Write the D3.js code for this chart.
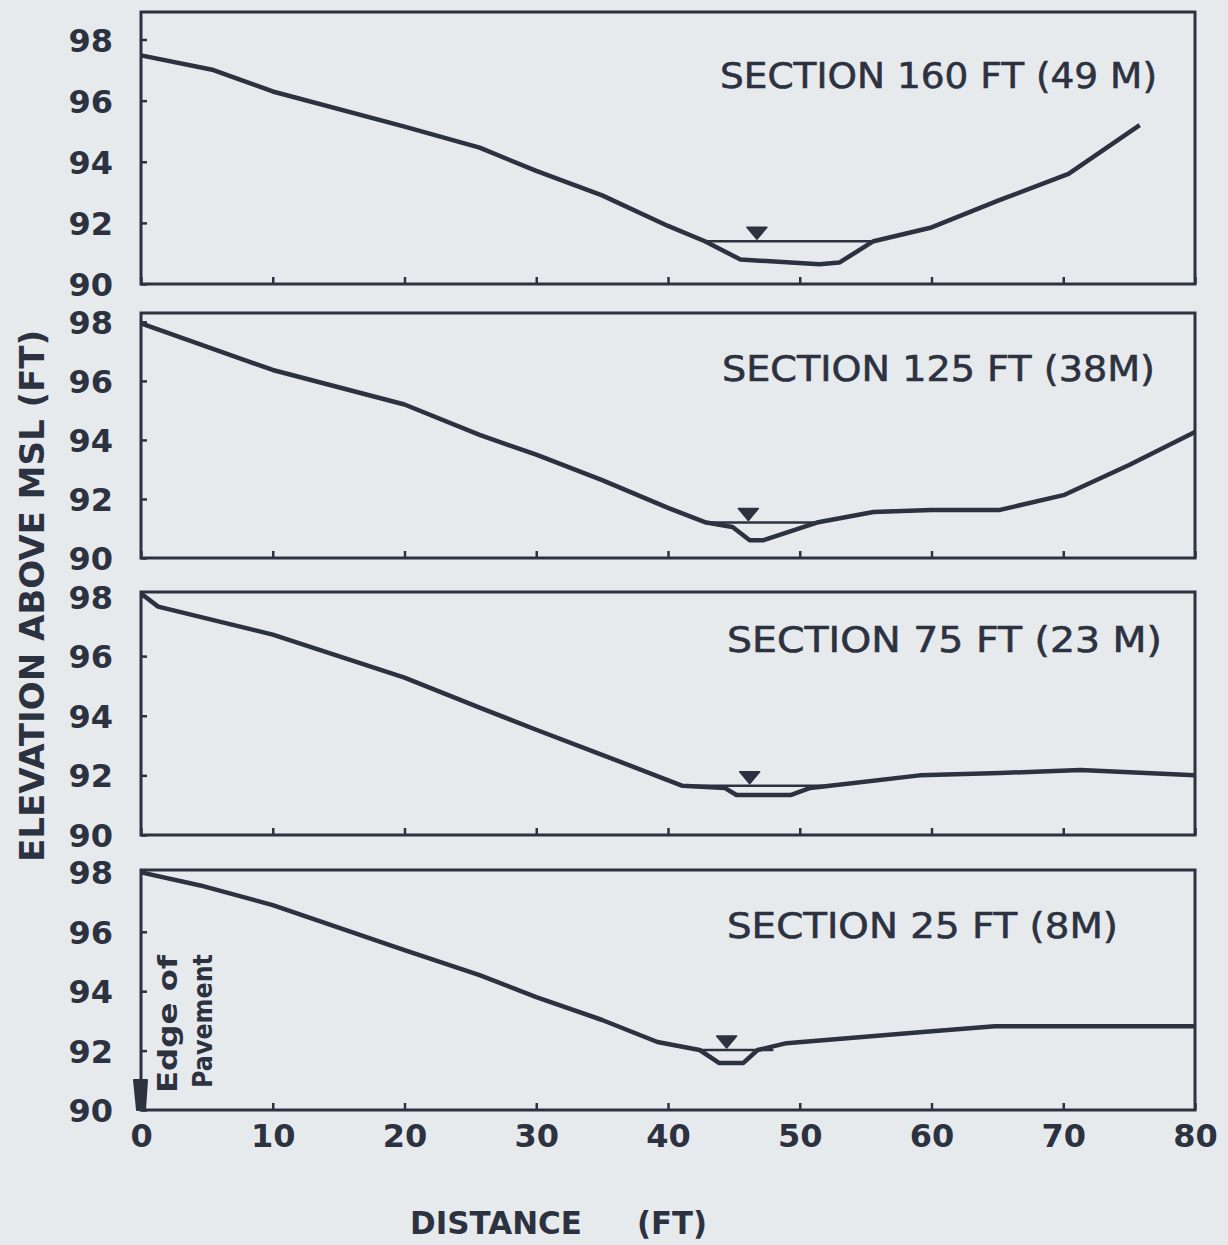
<!DOCTYPE html>
<html lang="en">
<head>
<meta charset="utf-8">
<title>Channel cross sections</title>
<script type="text/javascript" src="https://cdnjs.cloudflare.com/ajax/libs/d3/7.8.5/d3.min.js"></script>
<style>
body { margin: 0; background: #e7eaed; }
svg { display: block; }
.tick text { font-family: "DejaVu Sans", sans-serif; font-weight: bold; fill: #2d3241; }
.tick line { stroke: #2d3241; stroke-width: 2.5; }
.frame { fill: none; stroke: #2d3241; stroke-width: 3; }
.ground { fill: none; stroke: #2d3241; stroke-width: 4.5; stroke-linejoin: round; }
.water { stroke: #2d3241; stroke-width: 2.5; }
.title { font-family: "DejaVu Sans", sans-serif; fill: #2d3241; stroke: #2d3241; stroke-width: 0.6; }
.axis-title { font-family: "DejaVu Sans", sans-serif; font-weight: bold; fill: #2d3241; }
</style>
</head>
<body>
<div id="chart"></div>
<script type="text/javascript">

// section titles
var sections = ["SECTION 160 FT (49 M)", "SECTION 125 FT (38M)", "SECTION 75 FT (23 M)", "SECTION 25 FT (8M)"];

// ground profiles, [distance ft, elevation ft]
var profile160 = [[0,97.48],[5.5,97.0],[10,96.3],[20,95.15],[25.7,94.46],[30,93.7],[35,92.9],[40,91.9],[42.8,91.4],[45.5,90.8],[51.5,90.65],[53,90.7],[55.6,91.4],[60,91.85],[65.2,92.75],[70.4,93.6],[75.8,95.2]];
var profile125 = [[0,97.95],[10,96.37],[20,95.2],[25.7,94.17],[30,93.5],[35,92.64],[40,91.7],[42.9,91.2],[44.9,91.05],[46.2,90.6],[47.2,90.6],[51.3,91.2],[55.6,91.56],[60,91.63],[65.2,91.63],[70.1,92.14],[75,93.15],[80,94.27]];
var profile75 = [[0,98.1],[1.3,97.66],[10,96.72],[20,95.28],[25.7,94.27],[30,93.53],[35,92.69],[41.1,91.65],[44.3,91.58],[45.2,91.34],[49.3,91.34],[50.8,91.58],[52.3,91.65],[59.1,92.0],[65.2,92.08],[71.3,92.18],[80,92.0]];
var profile25 = [[0,98.0],[4.5,97.56],[10,96.9],[20,95.38],[25.7,94.54],[30,93.8],[35,93.03],[39.2,92.29],[42.4,92.02],[43.9,91.58],[45.7,91.58],[46.8,92.02],[49,92.25],[59.1,92.62],[64.8,92.82],[80,92.82]];
var profiles = [profile160, profile125, profile75, profile25];

// water surface: [from ft, to ft, level ft, marker ft]
var water = [[42.8,55.6,91.4,46.75],[42.9,51.3,91.2,46.1],[41.1,52.3,91.65,46.2],[42.4,48,92.02,44.45]];

// top of each panel's elevation range
var yTops = [98.9, 98.3, 98.15, 98.08];

var xTicks = [0,10,20,30,40,50,60,70,80];
var yTicks = [90,92,94,96,98];

var width = 1228, height = 1245;
var ink = "#2d3241";

var panels = [
    {top: 12, bottom: 284, tx: 720, ty: 88, tw: 437},
    {top: 313, bottom: 558, tx: 722, ty: 381, tw: 433},
    {top: 592, bottom: 835, tx: 727, ty: 652, tw: 435},
    {top: 870, bottom: 1110, tx: 727, ty: 938, tw: 391}
];

var svg = d3.select("#chart").append("svg")
    .attr("width", width)
    .attr("height", height);

var x = d3.scaleLinear().domain([0, 80]).range([141, 1195]);

var line = d3.line();

panels.forEach(function(p, i) {
    var y = d3.scaleLinear().domain([90, yTops[i]]).range([p.bottom, p.top]);
    var g = svg.append("g");
    var last = i == panels.length - 1;

    g.append("g")
        .attr("transform", "translate(141,0)")
        .call(d3.axisLeft(y).tickValues(yTicks).tickSize(-6).tickSizeOuter(0).tickPadding(28))
        .call(function(a) {
            a.select(".domain").remove();
            a.selectAll("text").style("font-size", "32px").attr("dy", "0.36em");
        });

    g.append("g")
        .attr("transform", "translate(0," + p.bottom + ")")
        .call(d3.axisBottom(x).tickValues(xTicks).tickSize(-7).tickSizeOuter(0).tickPadding(14)
            .tickFormat(last ? d3.format("d") : function() { return ""; }))
        .call(function(a) {
            a.select(".domain").remove();
            a.selectAll("text").style("font-size", "32px");
        });

    g.append("rect")
        .attr("class", "frame")
        .attr("x", x(0))
        .attr("y", p.top)
        .attr("width", x(80) - x(0))
        .attr("height", p.bottom - p.top);

    line.x(function(d) { return x(d[0]); }).y(function(d) { return y(d[1]); });

    var w = water[i];
    g.append("line")
        .attr("class", "water")
        .attr("x1", x(w[0])).attr("x2", x(w[1]))
        .attr("y1", y(w[2])).attr("y2", y(w[2]));

    g.append("path")
        .attr("class", "ground")
        .attr("d", line(profiles[i]));

    // water level marker
    var mx = x(w[3]), my = y(w[2]) - 2;
    g.append("path")
        .attr("d", "M" + (mx - 10) + "," + (my - 12) + "L" + (mx + 10) + "," + (my - 12) + "L" + mx + "," + my + "Z")
        .attr("fill", ink)
        .attr("stroke", ink)
        .attr("stroke-width", 1.5)
        .attr("stroke-linejoin", "round");

    g.append("text")
        .attr("class", "title")
        .attr("x", p.tx)
        .attr("y", p.ty)
        .attr("textLength", p.tw)
        .attr("lengthAdjust", "spacingAndGlyphs")
        .style("font-size", "36px")
        .text(sections[i]);

    if (last) {
        var ex = x(0), ey = y(90);
        g.append("path")
            .attr("d", "M" + (ex - 7) + "," + (ey - 30) + "L" + (ex + 6) + "," + (ey - 30) +
                "L" + (ex + 4) + "," + ey + "L" + (ex - 4) + "," + ey + "Z")
            .attr("fill", ink)
            .attr("stroke", ink)
            .attr("stroke-linejoin", "round")
            .attr("stroke-width", 2);
        g.append("text")
            .attr("class", "axis-title")
            .attr("transform", "translate(177," + (ey - 17) + ") rotate(-90)")
            .attr("textLength", 138)
            .attr("lengthAdjust", "spacingAndGlyphs")
            .style("font-size", "27px")
            .text("Edge of");
        g.append("text")
            .attr("class", "axis-title")
            .attr("transform", "translate(212," + (ey - 22) + ") rotate(-90)")
            .attr("textLength", 134)
            .attr("lengthAdjust", "spacingAndGlyphs")
            .style("font-size", "27px")
            .text("Pavement");
    }
});

svg.append("text")
    .attr("class", "axis-title")
    .attr("transform", "translate(44,862) rotate(-90)")
    .attr("textLength", 532)
    .attr("lengthAdjust", "spacingAndGlyphs")
    .style("font-size", "33px")
    .text("ELEVATION ABOVE MSL (FT)");

svg.append("text")
    .attr("class", "axis-title")
    .attr("x", 410).attr("y", 1234)
    .attr("textLength", 172)
    .attr("lengthAdjust", "spacingAndGlyphs")
    .style("font-size", "32px")
    .text("DISTANCE");

svg.append("text")
    .attr("class", "axis-title")
    .attr("x", 637).attr("y", 1234)
    .attr("textLength", 70)
    .attr("lengthAdjust", "spacingAndGlyphs")
    .style("font-size", "32px")
    .text("(FT)");

</script>
</body>
</html>
